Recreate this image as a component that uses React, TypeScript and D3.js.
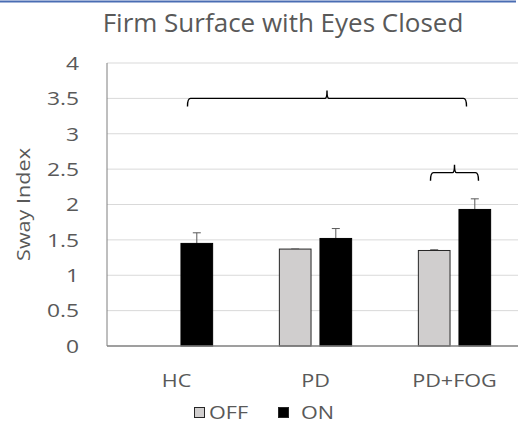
import React from "react";
import * as d3 from "d3";

// Sway index, firm surface, eyes closed
const groups = ["HC", "PD", "PD+FOG"];
const series = ["OFF", "ON"];
const offValues = [null, 1.37, 1.35];
const onValues = [1.45, 1.52, 1.93];
const offErrors = [null, 0.0, 0.01];
const onErrors = [0.15, 0.14, 0.15];
const yTicks = [0, 0.5, 1, 1.5, 2, 2.5, 3, 3.5, 4];
// significance brackets: level on the y scale, span around the group centre(s)
const brackets = [
  { from: "HC", to: "PD+FOG", level: 3.5 },
  { from: "PD+FOG", to: "PD+FOG", level: 2.45 },
];

const colors = { OFF: "#d0cece", ON: "#000000" };
const textColor = "#595959";
const font = "'Open Sans', 'Liberation Sans', sans-serif";
const stretch = 1.2; // labels in the original are drawn a bit wide

const width = 518;
const height = 427;
const margin = { top: 63, right: -6, bottom: 81, left: 107 };

// text widened along its own direction
const Label = ({ x, y, anchor = "start", size, rotate = 0, dy = "0", children }) => (
  <g transform={`translate(${x},${y}) rotate(${rotate}) scale(${stretch},1)`}>
    <text textAnchor={anchor} dy={dy} fontSize={size} fill={textColor}>
      {children}
    </text>
  </g>
);

export default function App() {
  const chartW = width - margin.left - margin.right;
  const chartH = height - margin.top - margin.bottom;

  const x0 = d3
    .scaleBand()
    .domain(groups)
    .range([0, chartW])
    .paddingInner(0.48)
    .paddingOuter(0.24);
  const x1 = d3
    .scaleBand()
    .domain(series)
    .range([0, x0.bandwidth()])
    .paddingInner(0.22);
  const y = d3.scaleLinear().domain([0, 4]).range([chartH, 0]);

  const rows = groups.map((g, i) => ({
    group: g,
    bars: [
      { key: "OFF", value: offValues[i], err: offErrors[i] },
      { key: "ON", value: onValues[i], err: onErrors[i] },
    ],
  }));

  const center = (g) => x0(g) + x0.bandwidth() / 2;

  const bracketPath = (b) => {
    const single = b.from === b.to;
    const xa = single ? center(b.from) - 24 : center(b.from) + 11;
    const xb = single ? center(b.to) + 24 : center(b.to) + 12;
    const yy = y(b.level);
    const mid = (xa + xb) / 2;
    const d = d3.path();
    d.moveTo(xa, yy + 8);
    d.quadraticCurveTo(xa, yy, xa + 3, yy);
    d.lineTo(mid - 2, yy);
    d.quadraticCurveTo(mid, yy, mid, yy - 8);
    d.quadraticCurveTo(mid, yy, mid + 2, yy);
    d.lineTo(xb - 3, yy);
    d.quadraticCurveTo(xb, yy, xb, yy + 8);
    return d.toString();
  };

  return (
    <svg
      width={width}
      height={height}
      style={{ position: "absolute", left: 0, top: 0, background: "#fff" }}
      fontFamily={font}
    >
      <line x1={0} x2={516} y1={1.5} y2={1.5} stroke="#4a6db3" strokeWidth={2} />
      <text x={283} y={32} textAnchor="middle" fontSize={26} fill={textColor}>
        Firm Surface with Eyes Closed
      </text>

      <g transform={`translate(${margin.left},${margin.top})`}>
        {/* gridlines */}
        {yTicks.slice(1).map((t) => (
          <line
            key={t}
            x1={0}
            x2={chartW}
            y1={y(t)}
            y2={y(t)}
            stroke="#d9d9d9"
            strokeWidth={1}
          />
        ))}
        {/* tick labels */}
        {yTicks.map((t) => (
          <Label key={t} x={-28} y={y(t)} dy="0.36em" anchor="end" size={19}>
            {t}
          </Label>
        ))}
        <Label x={-83} y={chartH / 2} rotate={-90} anchor="middle" dy="0.36em" size={18}>
          Sway Index
        </Label>

        {/* bars */}
        {rows.map((r) => (
          <g key={r.group} transform={`translate(${x0(r.group)},0)`}>
            {r.bars
              .filter((b) => b.value !== null)
              .map((b) => (
                <g key={b.key}>
                  <line
                    x1={x1(b.key) + x1.bandwidth() / 2}
                    x2={x1(b.key) + x1.bandwidth() / 2}
                    y1={y(b.value)}
                    y2={y(b.value + b.err)}
                    stroke="#595959"
                    strokeWidth={1}
                  />
                  <line
                    x1={x1(b.key) + x1.bandwidth() / 2 - 4}
                    x2={x1(b.key) + x1.bandwidth() / 2 + 4}
                    y1={y(b.value + b.err)}
                    y2={y(b.value + b.err)}
                    stroke="#595959"
                    strokeWidth={1}
                  />
                  <rect
                    x={x1(b.key)}
                    y={y(b.value)}
                    width={x1.bandwidth()}
                    height={chartH - y(b.value)}
                    fill={colors[b.key]}
                    stroke={b.key === "OFF" ? "#262626" : "#000"}
                    strokeWidth={1}
                  />
                </g>
              ))}
          </g>
        ))}

        {/* axes lines */}
        <line x1={0} x2={0} y1={0} y2={chartH} stroke="#7f7f7f" strokeWidth={1} />
        <line x1={0} x2={chartW} y1={chartH} y2={chartH} stroke="#7f7f7f" strokeWidth={1.5} />

        {/* category labels */}
        {groups.map((g) => (
          <Label key={g} x={center(g)} y={chartH + 41} anchor="middle" size={18}>
            {g}
          </Label>
        ))}

        {/* significance brackets */}
        {brackets.map((b, i) => (
          <path key={i} d={bracketPath(b)} fill="none" stroke="#000" strokeWidth={1.4} />
        ))}
      </g>

      {/* legend */}
      {series.map((s, i) => (
        <g key={s}>
          <rect
            x={194.5 + i * 84}
            y={407.5}
            width={10}
            height={10}
            fill={colors[s]}
            stroke="#262626"
          />
          <Label x={209 + i * 92} y={419} size={18}>
            {s}
          </Label>
        </g>
      ))}
    </svg>
  );
}
